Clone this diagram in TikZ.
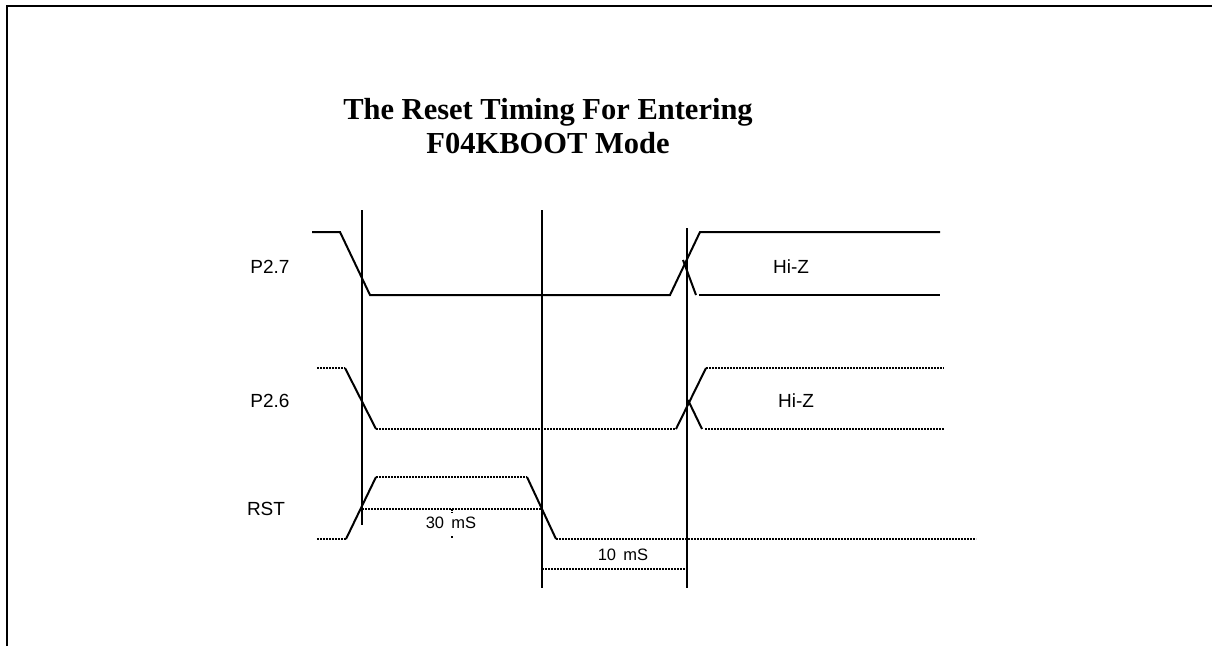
\documentclass[tikz,border=0pt]{standalone}
\usepackage{fontspec}
\setmainfont{Liberation Serif}
\setsansfont{Liberation Sans}
\begin{document}
\begin{tikzpicture}[x=1pt,y=-1pt,
  sig/.style={line width=2pt},
  dotsig/.style={line width=2pt,dash pattern=on 2pt off 1pt},
  vmarker/.style={line width=2pt},
  lbl/.style={font=\sffamily\fontsize{19}{22}\selectfont,inner sep=0pt},
  dim/.style={font=\sffamily\fontsize{16.5}{19}\selectfont,inner sep=0pt},
  ttl/.style={font=\bfseries\fontsize{30.5}{34}\selectfont,align=center,inner sep=0pt}]
\useasboundingbox (0,0) rectangle (1212,646);
% frame
\draw[line width=2.2pt] (7,646) -- (7,6) -- (1212,6);
% title
\node[ttl] (title) at (548,126) {The Reset Timing For Entering\\F04KBOOT Mode};
% vertical markers
\draw[vmarker] (362,210) -- (362,525);
\draw[vmarker] (542,210) -- (542,588);
\draw[vmarker] (687,228) -- (687,588);
% P2.7
\node[lbl] (p27) at (270,267) {P2.7};
\draw[sig] (312,232) -- (340,232) -- (370,295) -- (670,295) -- (700,232) -- (940,232);
\draw[sig] (683,260) -- (696,295);
\draw[sig] (699,295) -- (940,295);
\node[lbl] (hz1) at (791,267) {Hi-Z};
% P2.6
\node[lbl] (p26) at (270,401) {P2.6};
\draw[dotsig] (317,368) -- (345,368);
\draw[sig] (345,368) -- (376,429);
\draw[dotsig] (376,429) -- (676,429);
\draw[sig] (676,429) -- (706,368);
\draw[dotsig] (706,368) -- (944,368);
\draw[sig] (688,400) -- (702,429);
\draw[dotsig] (705,429) -- (944,429);
\node[lbl] (hz2) at (796,401) {Hi-Z};
% RST
\node[lbl] (rst) at (266,509) {RST};
\draw[dotsig] (317,539) -- (346,539);
\draw[sig] (346,539) -- (376,477);
\draw[dotsig] (376,477) -- (527,477);
\draw[sig] (527,477) -- (556,539);
\draw[dotsig] (556,539) -- (976,539);
% 30 mS dimension
\draw[dotsig] (362,509) -- (542,509);
\draw[dotsig,line width=1.4pt] (452,509) -- (452,513);
\draw[dotsig,line width=1.4pt] (452,536) -- (452,539);
\node[dim] (t30) at (451,523) {30\,\ mS};
% 10 mS dimension
\draw[dotsig] (542,569) -- (687,569);
\node[dim] (t10) at (623,555) {10\,\ mS};
\end{tikzpicture}
\end{document}
